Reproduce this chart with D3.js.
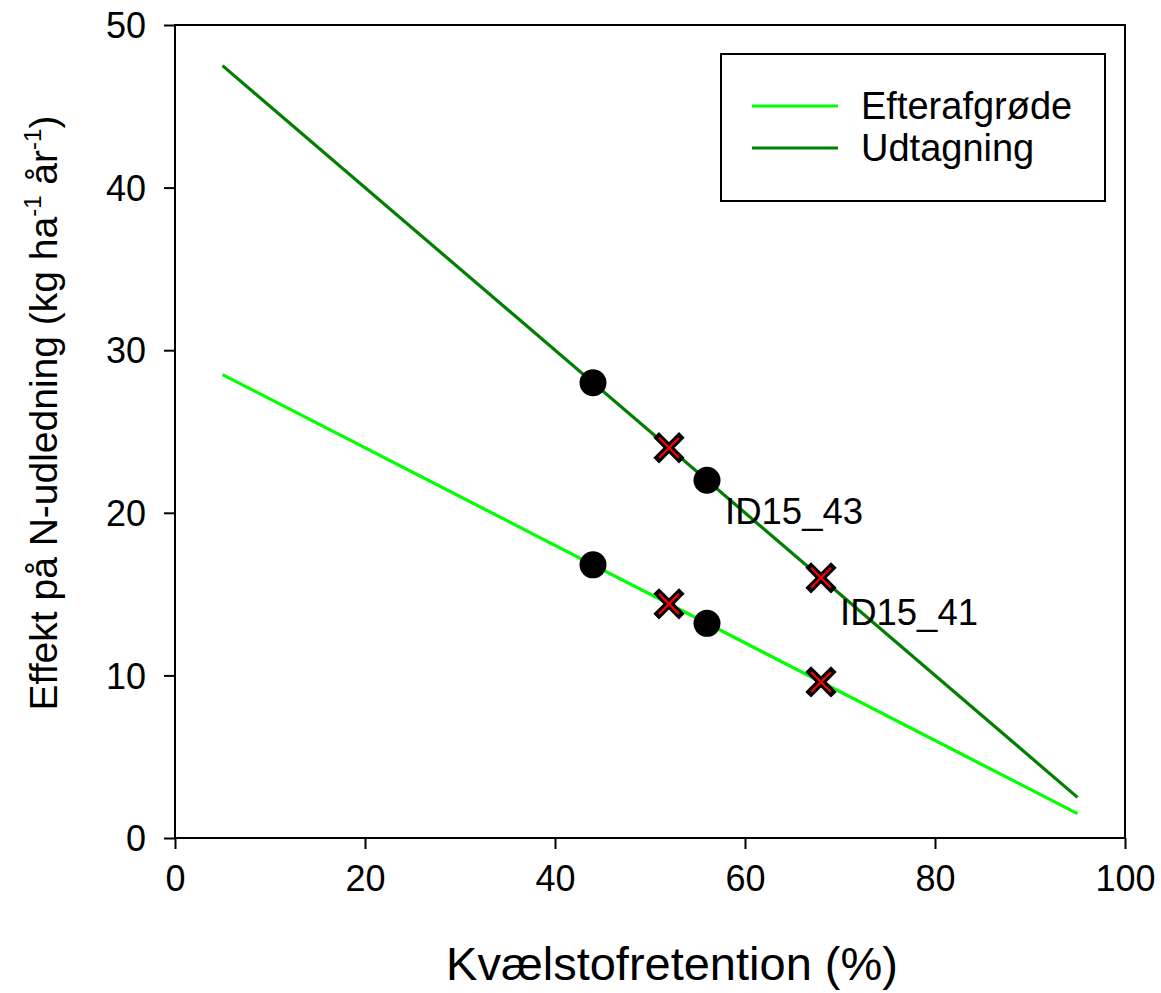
<!DOCTYPE html>
<html>
<head>
<meta charset="utf-8">
<script src="https://cdn.jsdelivr.net/npm/d3@7"></script>
<style>
  html, body { margin: 0; padding: 0; background: #fff; }
  text { font-family: Arial, "Liberation Sans", sans-serif; fill: #000; }
</style>
</head>
<body>
<div id="container"></div>
<script>
// data
const lineX = [5, 95];
const efterafgrodeLine = [28.5, 1.5];
const udtagningLine = [47.5, 2.5];

const circleX = [44, 56];
const efterafgrodeCircles = [16.8, 13.2];
const udtagningCircles = [28, 22];

const crossX = [52, 68];
const efterafgrodeCrosses = [14.4, 9.6];
const udtagningCrosses = [24, 16];

const pointLabels = ["ID15_43", "ID15_41"];
const pointLabelX = [57.9, 70];
const pointLabelY = [19.3, 13.1];

const xTicks = [0, 20, 40, 60, 80, 100];
const yTicks = [0, 10, 20, 30, 40, 50];

const seriesNames = ["Efterafgrøde", "Udtagning"];
const seriesColors = ["#00ff00", "#008000"];

const width = 1161;
const height = 993;
const margin = { top: 25, right: 36, bottom: 155, left: 175 };

const svg = d3.select("#container")
    .append("svg")
    .attr("width", width)
    .attr("height", height);

const x = d3.scaleLinear()
    .domain([0, 100])
    .range([margin.left, width - margin.right]);

const y = d3.scaleLinear()
    .domain([0, 50])
    .range([height - margin.bottom, margin.top]);

// frame
svg.append("rect")
    .attr("x", x(0))
    .attr("y", y(50))
    .attr("width", x(100) - x(0))
    .attr("height", y(0) - y(50))
    .attr("fill", "none")
    .attr("stroke", "#000")
    .attr("stroke-width", 2);

// axes
const xAxis = svg.append("g")
    .attr("transform", `translate(0,${y(0)})`)
    .call(d3.axisBottom(x).tickValues(xTicks).tickSize(11).tickPadding(16).tickFormat(d3.format("d")));
const yAxis = svg.append("g")
    .attr("transform", `translate(${x(0)},0)`)
    .call(d3.axisLeft(y).tickValues(yTicks).tickSize(11).tickPadding(18).tickFormat(d3.format("d")));

[xAxis, yAxis].forEach(g => {
    g.select(".domain").remove();
    g.selectAll("line").attr("stroke", "#000").attr("stroke-width", 2);
    g.selectAll("text")
        .attr("font-family", "Arial, 'Liberation Sans', sans-serif")
        .attr("font-size", 36)
        .attr("fill", "#000");
});
yAxis.selectAll("text").attr("dy", "0.35em");

// regression lines
const lineGen = d3.line().x(d => x(d[0])).y(d => y(d[1]));
[efterafgrodeLine, udtagningLine].forEach((vals, i) => {
    svg.append("path")
        .datum(lineX.map((v, j) => [v, vals[j]]))
        .attr("d", lineGen)
        .attr("fill", "none")
        .attr("stroke", seriesColors[i])
        .attr("stroke-width", 3.2);
});

// circle markers
[efterafgrodeCircles, udtagningCircles].forEach(vals => {
    svg.selectAll(null)
        .data(circleX.map((v, j) => [v, vals[j]]))
        .enter()
        .append("circle")
        .attr("cx", d => x(d[0]))
        .attr("cy", d => y(d[1]))
        .attr("r", 13.5)
        .attr("fill", "#000");
});

// cross markers: black outline with a red core
const arm = 10;
const crossPath = `M${-arm},${-arm}L${arm},${arm}M${-arm},${arm}L${arm},${-arm}`;
[efterafgrodeCrosses, udtagningCrosses].forEach(vals => {
    const g = svg.selectAll(null)
        .data(crossX.map((v, j) => [v, vals[j]]))
        .enter()
        .append("g")
        .attr("transform", d => `translate(${x(d[0])},${y(d[1])})`);
    g.append("path")
        .attr("d", crossPath)
        .attr("stroke", "#000")
        .attr("stroke-width", 8)
        .attr("stroke-linecap", "square");
    g.append("path")
        .attr("d", crossPath)
        .attr("stroke", "#ff0000")
        .attr("stroke-width", 2.2);
});

// point labels
svg.selectAll(null)
    .data(pointLabels)
    .enter()
    .append("text")
    .attr("x", (d, i) => x(pointLabelX[i]))
    .attr("y", (d, i) => y(pointLabelY[i]))
    .attr("font-size", 36.5)
    .text(d => d);

// legend
const legend = svg.append("g");
legend.append("rect")
    .attr("x", 721)
    .attr("y", 54)
    .attr("width", 384)
    .attr("height", 147)
    .attr("fill", "#fff")
    .attr("stroke", "#000")
    .attr("stroke-width", 2);
seriesNames.forEach((name, i) => {
    const ly = 106 + i * 42;
    legend.append("line")
        .attr("x1", 752).attr("x2", 838)
        .attr("y1", ly).attr("y2", ly)
        .attr("stroke", seriesColors[i])
        .attr("stroke-width", 3.2);
    legend.append("text")
        .attr("x", 861)
        .attr("y", ly + 13)
        .attr("font-size", 38)
        .text(name);
});

// axis titles
svg.append("text")
    .attr("x", 672)
    .attr("y", 980)
    .attr("text-anchor", "middle")
    .attr("font-size", 47)
    .text("Kvælstofretention (%)");

const yTitle = svg.append("text")
    .attr("transform", "translate(57,413) rotate(-90)")
    .attr("text-anchor", "middle")
    .attr("font-size", 39);
yTitle.append("tspan").text("Effekt på N-udledning (kg ha");
yTitle.append("tspan").attr("font-size", 24).attr("dy", -16).text("-1");
yTitle.append("tspan").attr("dy", 16).text("  år");
yTitle.append("tspan").attr("font-size", 24).attr("dy", -16).text("-1");
yTitle.append("tspan").attr("dy", 16).text(")");
</script>
</body>
</html>
